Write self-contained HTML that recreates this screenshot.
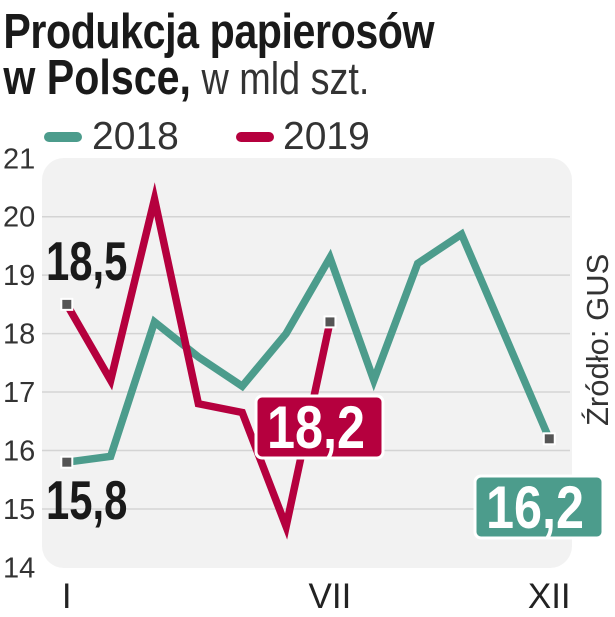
<!DOCTYPE html>
<html><head><meta charset="utf-8"><style>
body{margin:0;width:615px;height:617px;background:#fff;overflow:hidden;font-family:"Liberation Sans",sans-serif}
svg{display:block}
</style></head><body>
<svg width="615" height="617">
<text x="4" y="48" font-size="49" font-weight="bold" fill="#1a1a1a" transform="scale(0.84,1)" letter-spacing="-0.5">Produkcja papierosów</text>
<text x="4" y="94" font-size="49" fill="#1a1a1a" transform="scale(0.84,1)"><tspan font-weight="bold">w Polsce,</tspan><tspan font-size="45" fill="#333"> w mld szt.</tspan></text>
<g>
<line x1="49" y1="137" x2="77" y2="137" stroke="#4c9c8c" stroke-width="10" stroke-linecap="round"/>
<text x="92" y="149" font-size="39" fill="#333">2018</text>
<line x1="241" y1="137" x2="269" y2="137" stroke="#b5003e" stroke-width="10" stroke-linecap="round"/>
<text x="283" y="149" font-size="39" fill="#333">2019</text>
</g>
<rect x="42" y="158" width="530" height="410" rx="22" fill="#f2f2f2"/>
<g id="grid"></g><g id="ylabels"></g><g id="lines"></g>
<text transform="translate(608,426) rotate(-90)" font-size="31" fill="#333">Źródło: GUS</text>
</svg>
<script>
const months=["I","II","III","IV","V","VI","VII","VIII","IX","X","XI","XII"];
const shownMonths=["I","VII","XII"];
const yTicks=[14,15,16,17,18,19,20,21];
const s2018=[15.8,15.9,18.2,17.6,17.1,18.0,19.3,17.2,19.2,19.7,17.95,16.2];
const s2019=[18.5,17.2,20.3,16.8,16.65,14.7,18.2];
const NS="http://www.w3.org/2000/svg";
const X=i=>66.8+i*43.86;
const Y=v=>567.4-(v-14)*58.45;
function mk(t,a,p){const e=document.createElementNS(NS,t);for(const k in a)e.setAttribute(k,a[k]);p.appendChild(e);return e;}
const grid=document.getElementById('grid'),yl=document.getElementById('ylabels'),ln=document.getElementById('lines'),svg=document.querySelector('svg');
yTicks.forEach(v=>{
 if(v>14&&v<21){const g=mk('line',{x1:42,x2:570,y1:Y(v),y2:Y(v),stroke:'#d4d4d4','stroke-width':1.5},grid);
 
 }
 const t=mk('text',{x:3,y:Y(v)+10,'font-size':29,fill:'#333'},yl);t.textContent=v;
 
 
});
shownMonths.forEach(m=>{const i=months.indexOf(m);
 const t=mk('text',{x:X(i),y:608,'font-size':35,fill:'#222','text-anchor':'middle'},svg);t.textContent=m;
 
 
});
function series(d,c,name){
 const p=mk('polyline',{points:d.map((v,i)=>X(i)+','+Y(v)).join(' '),fill:'none',stroke:c,'stroke-width':7.5,'stroke-linejoin':'miter','stroke-miterlimit':10},ln);
 
 
}
series(s2018,'#4c9c8c','line-2018');
series(s2019,'#b5003e','line-2019');
function marker(i,v){const r=mk('rect',{x:X(i)-5.5,y:Y(v)-5.5,width:11,height:11,fill:'#555',stroke:'#fff','stroke-width':2},ln);
 
 }
marker(0,s2018[0]);marker(11,s2018[11]);marker(0,s2019[0]);marker(6,s2019[6]);
function lbl(x,y,txt,fill,fs,sx){const t=mk('text',{x:x,y:y,'font-size':fs,'font-weight':'bold',fill:fill,transform:'translate('+x+','+y+') scale('+sx+',1) translate('+(-x)+','+(-y)+')'},ln);t.textContent=txt;
 
 return t;}
lbl(46,280,'18,5','#1a1a1a',55,0.76);
lbl(46,519,'15,8','#1a1a1a',55,0.76);
function box(x,y,w,h,c,txt){const r=mk('rect',{x:x,y:y,width:w,height:h,rx:6,fill:c,stroke:'#fff','stroke-width':3},ln);
 
 
 lbl(x+11,y+h-10,txt,'#fff',60,0.84);}
box(256,396,127,62,'#b5003e',String(s2019[6]).replace('.',','));
box(475,476,128,62,'#4c9c8c',String(s2018[11]).replace('.',','));
</script>
</body></html>
